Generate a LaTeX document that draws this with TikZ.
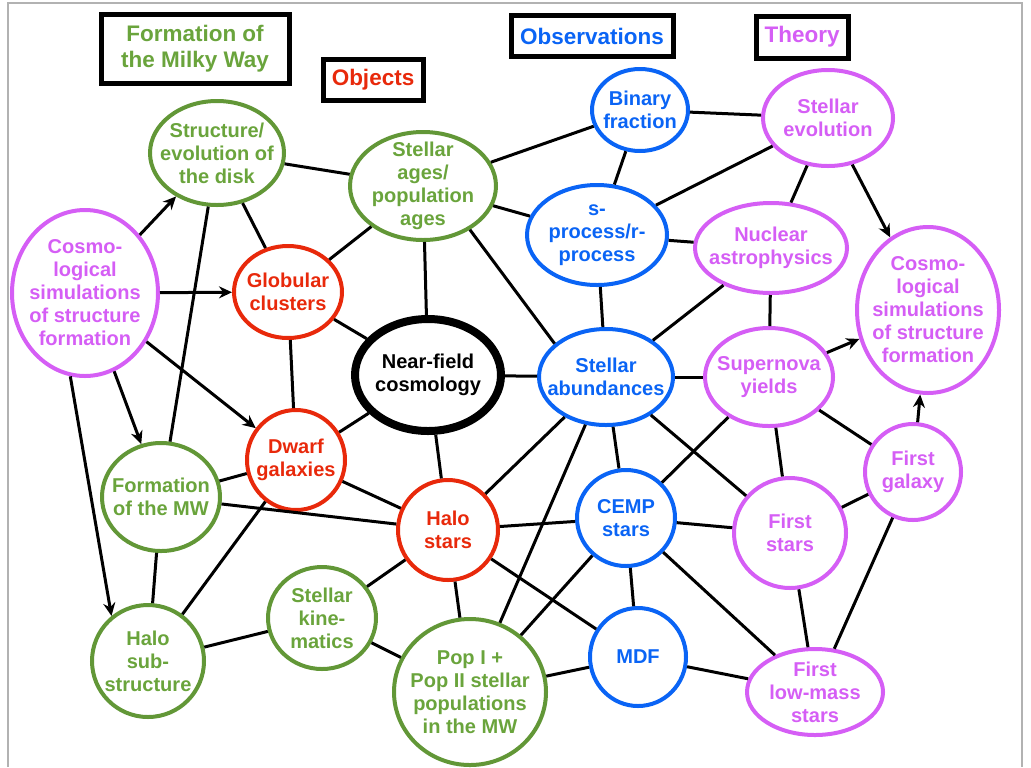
\documentclass[tikz,border=0pt]{standalone}
\usepackage{fontspec}
\setmainfont{Liberation Sans}
\usetikzlibrary{shapes.geometric,arrows.meta}

\definecolor{mwgreen}{RGB}{106,164,60}
\definecolor{objred}{RGB}{232,41,11}
\definecolor{obsblue}{RGB}{10,100,245}
\definecolor{thpurple}{RGB}{213,94,245}

\tikzset{
  blob/.style={ellipse, draw, line width=0.8mm, inner sep=-8mm, align=center,
    font=\bfseries\fontsize{11.4}{13.1}\selectfont},
  gnode/.style={blob, draw=mwgreen!92!black, text=mwgreen},
  rnode/.style={blob, draw=objred, text=objred},
  bnode/.style={blob, draw=obsblue, text=obsblue},
  pnode/.style={blob, draw=thpurple, text=thpurple},
  sz/.style 2 args={minimum width=#1*0.4mm-0.8mm, minimum height=#2*0.4mm-0.8mm},
  hdr/.style={draw, line width=1mm, inner sep=0pt, align=center, fill=white,
    font=\bfseries\fontsize{12.8}{14.7}\selectfont},
  hsz/.style 2 args={minimum width=#1*0.2mm-1mm, minimum height=#2*0.2mm-1mm},
  link/.style={line width=0.6mm},
  arr/.style={link, -{Stealth[length=2.6mm,width=2.4mm]}},
}

\begin{document}
\begin{tikzpicture}[x=0.2mm,y=-0.2mm]
\useasboundingbox (0,0) rectangle (1031,767);
\draw[black!30, line width=0.3mm] (8,767) -- (8,3) -- (1022,3) -- (1022,767);

% headers
\node[hdr, hsz={193}{74}, text=mwgreen] (hmw) at (195,49) {Formation of\\the Milky Way};
\node[hdr, hsz={105}{46}, text=objred] (hobj) at (373,80) {Objects};
\node[hdr, hsz={167}{46}, text=obsblue] (hobs) at (592,36) {Observations};
\node[hdr, hsz={97}{47}, text=thpurple] (hth) at (802,37) {Theory};

% nodes
\node[gnode, sz={69}{54}] (disk) at (217,153) {Structure/\\evolution of\\the disk};
\node[gnode, sz={75}{56}] (ages) at (423,186) {Stellar\\ages/\\population\\ages};
\node[bnode, sz={50}{43}] (binary) at (640,110) {Binary\\fraction};
\node[pnode, sz={67}{50}] (evol) at (828,118) {Stellar\\evolution};
\node[bnode, sz={72}{52}] (sproc) at (597,235) {s-\\process/r-\\process};
\node[pnode, sz={78}{47}] (nucl) at (771,248) {Nuclear\\astrophysics};
\node[pnode, sz={73}{85}] (cosmoR) at (928,310) {Cosmo-\\logical\\simulations\\of structure\\formation};
\node[pnode, sz={75}{85}] (cosmoL) at (85,293) {Cosmo-\\logical\\simulations\\of structure\\formation};
\node[rnode, sz={56}{48}] (glob) at (288,292) {Globular\\clusters};
\node[blob, sz={75}{58}, line width=1.6mm] (nfc) at (428,375) {Near-field\\cosmology};
\node[rnode, sz={51}{52}] (dwarf) at (296,460) {Dwarf\\galaxies};
\node[bnode, sz={69}{50}] (abund) at (606,377) {Stellar\\abundances};
\node[pnode, sz={66}{51}] (snyield) at (769,377) {Supernova\\yields};
\node[pnode, sz={50}{50}] (fgal) at (913,472) {First\\galaxy};
\node[gnode, sz={61}{56}] (fmw) at (161,497) {Formation\\of the MW};
\node[rnode, sz={52}{52}] (halo) at (448,530) {Halo\\stars};
\node[bnode, sz={51}{50}] (cemp) at (626,518) {CEMP\\stars};
\node[pnode, sz={58}{57}] (fstars) at (790,533) {First\\stars};
\node[gnode, sz={58}{58}] (halosub) at (148,661) {Halo\\sub-\\structure};
\node[gnode, sz={56}{53}] (kin) at (322,618) {Stellar\\kine-\\matics};
\node[gnode, sz={78}{75}] (pop) at (470,692) {Pop I +\\Pop II stellar\\populations\\in the MW};
\node[bnode, sz={50}{51}] (mdf) at (638,657) {MDF};
\node[pnode, sz={70}{45}] (lowm) at (815,692) {First\\low-mass\\stars};

% arrows
\draw[arr] (cosmoL) -- (disk);
\draw[arr] (cosmoL) -- (glob);
\draw[arr] (cosmoL) -- (dwarf);
\draw[arr] (cosmoL) -- (fmw);
\draw[arr] (cosmoL.260) -- (halosub.129);
\draw[arr] (evol) -- (cosmoR);
\draw[arr] (snyield) -- (cosmoR);
\draw[arr] (fgal) -- (cosmoR);

% links
\draw[link] (disk) -- (ages);
\draw[link] (disk) -- (glob);
\draw[link] (disk) -- (fmw);
\draw[link] (ages) -- (glob);
\draw[link] (ages) -- (nfc);
\draw[link] (ages) -- (binary);
\draw[link] (ages) -- (sproc);
\draw[link] (ages.317) -- (abund.147);
\draw[link] (binary) -- (evol);
\draw[link] (binary) -- (sproc);
\draw[link] (evol) -- (sproc);
\draw[link] (evol) -- (nucl);
\draw[link] (sproc) -- (nucl);
\draw[link] (sproc) -- (abund);
\draw[link] (nucl) -- (abund);
\draw[link] (nucl) -- (snyield);
\draw[link] (glob) -- (nfc);
\draw[link] (glob) -- (dwarf);
\draw[link] (nfc) -- (abund);
\draw[link] (nfc) -- (dwarf);
\draw[link] (nfc) -- (halo);
\draw[link] (dwarf) -- (fmw);
\draw[link] (dwarf) -- (halo);
\draw[link] (dwarf) -- (halosub);
\draw[link] (abund) -- (snyield);
\draw[link] (abund) -- (halo);
\draw[link] (abund) -- (pop);
\draw[link] (abund) -- (cemp);
\draw[link] (abund) -- (fstars);
\draw[link] (snyield) -- (cemp);
\draw[link] (snyield) -- (fstars);
\draw[link] (snyield) -- (fgal);
\draw[link] (fgal) -- (fstars);
\draw[link] (fgal) -- (lowm);
\draw[link] (fstars) -- (lowm);
\draw[link] (cemp) -- (fstars);
\draw[link] (cemp) -- (halo);
\draw[link] (cemp) -- (mdf);
\draw[link] (cemp) -- (lowm);
\draw[link] (cemp) -- (pop);
\draw[link] (halo) -- (mdf);
\draw[link] (halo) -- (pop);
\draw[link] (halo) -- (kin);
\draw[link] (halo) -- (fmw);
\draw[link] (mdf) -- (pop);
\draw[link] (mdf) -- (lowm);
\draw[link] (fmw) -- (halosub);
\draw[link] (kin) -- (halosub);
\draw[link] (kin) -- (pop);
\end{tikzpicture}
\end{document}
